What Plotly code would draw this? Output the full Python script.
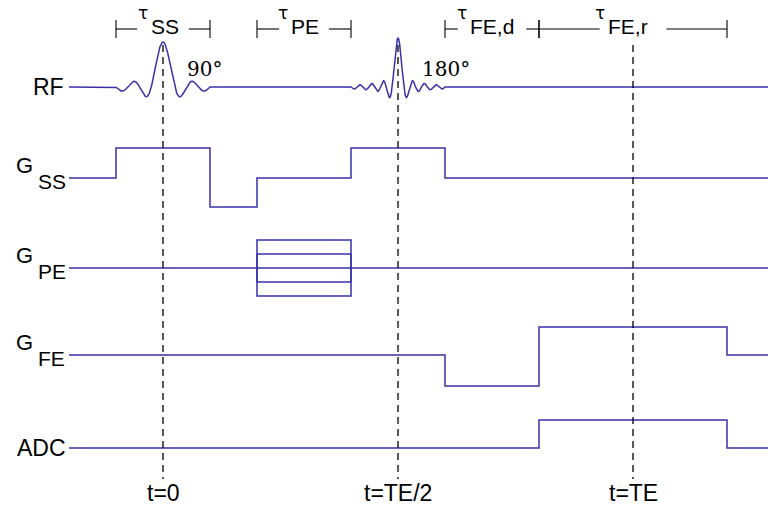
import numpy as np
import plotly.graph_objects as go

# ---------------- data (time in ms, TE = 10 ms; amplitudes in normalised units) -------------
TE = 10.0
T_BEGIN = -2.0
T_END = 13.0

# RF pulses: centre time, duration, sinc zero-crossings per side, peak amplitude
rf_labels = ["90°", "180°"]
rf_center = [0.0, 5.0]
rf_duration = [2.0, 2.0]
rf_lobes = [4, 8]
rf_peak = [1.5, 1.63]

# slice-select gradient (step waveform: level holds from each time to the next)
gss_time = [T_BEGIN, -1.0, 1.0, 2.0, 4.0, 6.0, T_END]
gss_amp = [0.0, 1.0, -0.97, 0.0, 1.0, 0.0, 0.0]

# phase-encode table
gpe_start, gpe_end = 2.0, 4.0
gpe_steps = [0.93, 0.47, -0.47, -0.93]

# frequency-encode gradient
gfe_time = [T_BEGIN, 6.0, 8.0, 12.0, T_END]
gfe_amp = [0.0, -1.03, 0.93, 0.0, 0.0]

# ADC
adc_time = [T_BEGIN, 8.0, 12.0, T_END]
adc_amp = [0.0, 0.93, 0.0, 0.0]

marker_times = [0.0, TE / 2, TE]
marker_labels = ["t=0", "t=TE/2", "t=TE"]

interval_names = ["SS", "PE", "FE,d", "FE,r"]
interval_start = [-1.0, 2.0, 6.0, 8.0]
interval_end = [1.0, 4.0, 8.0, 12.0]

# ---------------- layout / style ----------------
W, H = 768, 518
PX_PER_MS = 47.0
X0_PX = 163.0
PX_PER_UNIT = 30.0

def ypx(p):
    return -p / PX_PER_UNIT

offset = {"RF": ypx(87), "SS": ypx(178), "PE": ypx(268), "FE": ypx(355), "ADC": ypx(448)}
LINE = "#3a30a8"
LW = 1.5
SANS = "Liberation Sans, Arial, sans-serif"
SERIF = "DejaVu Serif, serif"

fig = go.Figure()

def add(x, y, **kw):
    fig.add_trace(go.Scatter(x=x, y=y, mode="lines", showlegend=False, hoverinfo="skip",
                             line=dict(color=kw.pop("color", LINE), width=kw.pop("width", LW),
                                       shape=kw.pop("shape", "linear"), dash=kw.pop("dash", "solid"))))

# RF
rf_x, rf_y = [T_BEGIN], [0.0]
for c, d, n, a in zip(rf_center, rf_duration, rf_lobes, rf_peak):
    t = np.linspace(c - d / 2, c + d / 2, 600)
    u = (t - c) / (d / 2)
    rf_x += list(t)
    rf_y += list(a * np.sinc(n * u))
rf_x.append(T_END)
rf_y.append(0.0)
add(rf_x, [v + offset["RF"] for v in rf_y])

# G_SS
add(gss_time, [v + offset["SS"] for v in gss_amp], shape="hv")
# G_PE
add([T_BEGIN, T_END], [offset["PE"]] * 2)
for s in gpe_steps:
    add([gpe_start, gpe_start, gpe_end, gpe_end], [offset["PE"], s + offset["PE"], s + offset["PE"], offset["PE"]])
# G_FE
add(gfe_time, [v + offset["FE"] for v in gfe_amp], shape="hv")
# ADC
add(adc_time, [v + offset["ADC"] for v in adc_amp], shape="hv")

# dashed time markers
for tm in marker_times:
    add([tm, tm], [ypx(45), ypx(479)], color="black", width=1.3, dash="7px,5px")

# interval brackets on top
gap_half = {"SS": 0.55, "PE": 0.53, "FE,d": 0.73, "FE,r": 0.71}
txt_left = {"SS": -0.30, "PE": -0.32, "FE,d": -0.51, "FE,r": -0.58}
for nm, a, b in zip(interval_names, interval_start, interval_end):
    c = (a + b) / 2
    g = gap_half[nm]
    add([a, c - g, None, c + g, b], [ypx(29)] * 2 + [None] + [ypx(29)] * 2, color="black", width=1.1)
    add([a, a, None, b, b], [ypx(20), ypx(38), None, ypx(20), ypx(38)], color="black", width=1.1)
    fig.add_annotation(x=c + txt_left[nm], y=ypx(26), text=nm, showarrow=False, xanchor="left",
                       yanchor="middle", font=dict(family=SANS, size=21, color="black"))
    fig.add_annotation(x=c + txt_left[nm], y=ypx(13), text="τ", showarrow=False, xanchor="right",
                       xshift=1, yanchor="middle",
                       font=dict(family="DejaVu Sans, sans-serif", size=17, color="black"))

# flip-angle labels
for lab, c in zip(rf_labels, rf_center):
    fig.add_annotation(x=c + 0.47, y=ypx(69), text=lab, showarrow=False, xanchor="left",
                       yanchor="middle", font=dict(family=SERIF, size=20, color="black"))

# time marker labels
for lab, tm in zip(marker_labels, marker_times):
    fig.add_annotation(x=tm, y=ypx(493), text=lab, showarrow=False, xanchor="center",
                       yanchor="middle", font=dict(family=SANS, size=23, color="black"))

# channel labels
fig.add_annotation(xref="paper", x=66 / W, y=offset["RF"], text="RF", showarrow=False, xanchor="right",
                   yanchor="middle", font=dict(family=SANS, size=23, color="black"))
fig.add_annotation(xref="paper", x=68 / W, y=offset["ADC"], text="ADC", showarrow=False, xanchor="right",
                   yanchor="middle", font=dict(family=SANS, size=23, color="black"))
for key, sub in [("SS", "SS"), ("PE", "PE"), ("FE", "FE")]:
    fig.add_annotation(xref="paper", x=35 / W, y=offset[key] + 13 / PX_PER_UNIT, text="G", showarrow=False,
                       xanchor="right", yanchor="middle", font=dict(family=SANS, size=22, color="black"))
    fig.add_annotation(xref="paper", x=36 / W, y=offset[key] - 3 / PX_PER_UNIT, text=sub, showarrow=False,
                       xanchor="left", yanchor="middle", font=dict(family=SANS, size=21, color="black"))

fig.update_layout(
    width=W, height=H, margin=dict(l=0, r=0, t=0, b=0),
    paper_bgcolor="white", plot_bgcolor="white",
    xaxis=dict(range=[-X0_PX / PX_PER_MS, (W - X0_PX) / PX_PER_MS], visible=False, fixedrange=True),
    yaxis=dict(range=[ypx(H), 0], visible=False, fixedrange=True),
)
fig.write_html("out.html")
